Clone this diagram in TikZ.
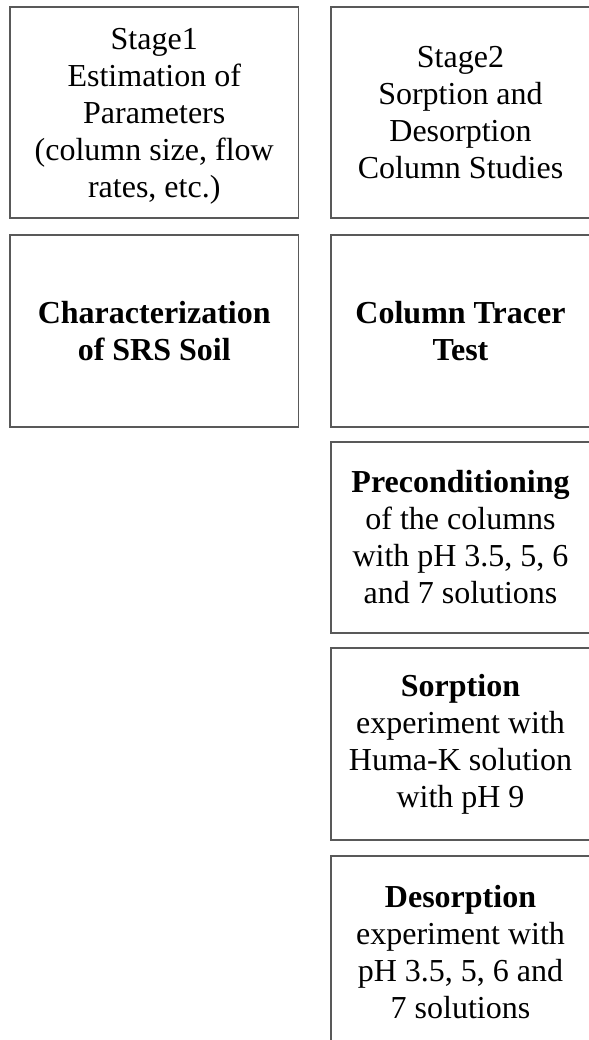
\documentclass[tikz,border=0pt]{standalone}
\usepackage{fontspec}
\setmainfont{Liberation Serif}
\begin{document}
\begin{tikzpicture}[x=1bp,y=-1bp,
  txt/.style={align=center, inner sep=0pt, font=\fontsize{32bp}{37bp}\selectfont},
  box/.style={txt, draw=black!65, line width=1.3bp, rectangle},
  leftbox/.style={box, minimum width=288.5bp, minimum height=211bp},
  rightbox/.style={box, minimum width=259bp, minimum height=211bp}]
\useasboundingbox (0,0) rectangle (589,1040);
\clip (0,0) rectangle (589,1040);
\node[leftbox] (s1) at (154.25,112.5) {};
\node[txt] (s1text) at ([yshift=-4bp]s1.center) {Stage1\\Estimation of\\Parameters\\(column size, flow\\rates, etc.)};
\node[rightbox] (s2) at (460.5,112.5) {Stage2\\Sorption and\\Desorption\\Column Studies};
\node[leftbox, minimum height=192bp] (soil) at (154.25,331) {\textbf{Characterization}\\\textbf{of SRS Soil}};
\node[rightbox, minimum height=192bp] (tracer) at (460.5,331) {\textbf{Column Tracer}\\\textbf{Test}};
\node[rightbox, minimum height=191bp] (pre) at (460.5,537.5) {\textbf{Preconditioning}\\of the columns\\with pH 3.5, 5, 6\\and 7 solutions};
\node[rightbox, minimum height=192bp] (sorp) at (460.5,744) {\textbf{Sorption}\\experiment with\\Huma-K solution\\with pH 9};
\node[rightbox, minimum height=192bp] (desorp) at (460.5,952) {\textbf{Desorption}\\experiment with\\pH 3.5, 5, 6 and\\7 solutions};
\end{tikzpicture}
\end{document}
